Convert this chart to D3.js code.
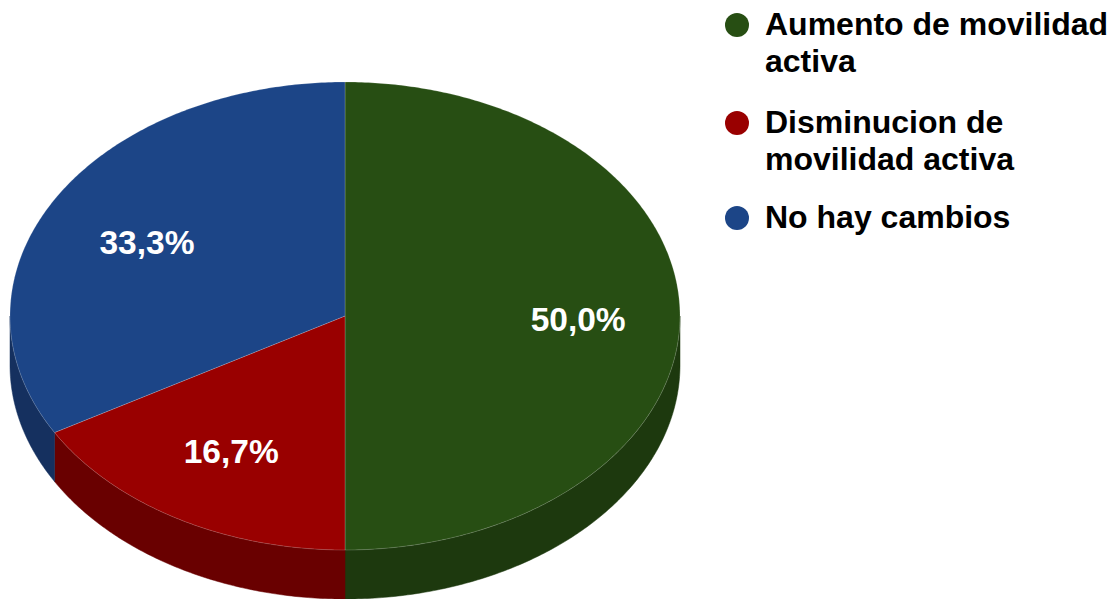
<!DOCTYPE html>
<html><head><meta charset="utf-8">
<script src="https://cdn.jsdelivr.net/npm/d3@7"></script>
<style>body{margin:0;background:#fff;}svg{display:block;}</style>
</head><body>
<svg id="c" width="1114" height="599"></svg>
<script>
const categories = ["Aumento de movilidad activa", "Disminucion de movilidad activa", "No hay cambios"];
const legendLines = [["Aumento de movilidad", "activa"], ["Disminucion de", "movilidad activa"], ["No hay cambios"]];
const values = [50.0, 16.7, 33.3];
const labels = ["50,0%", "16,7%", "33,3%"];
const topColors = ["#274e13", "#990000", "#1c4587"];
const sideColors = ["#1d390e", "#690000", "#15305f"];

const svg = d3.select("#c");
const font = "'Liberation Sans', Arial, sans-serif";
const cx = 345, cy = 316, rx = 335, ry = 234, depth = 49;
const pt = (a, dy = 0) => [cx + rx * Math.sin(a), cy - ry * Math.cos(a) + dy];

const arcs = d3.pie().sort(null).value(d => d)(values);

function sample(a0, a1) {
  const n = Math.max(2, Math.ceil(Math.abs(a1 - a0) / 0.01));
  return d3.range(n + 1).map(i => a0 + (a1 - a0) * i / n);
}

const g = svg.append("g");
// sides (visible front half: PI/2 .. 3PI/2)
arcs.forEach((a, i) => {
  const s0 = Math.max(a.startAngle, Math.PI / 2), s1 = Math.min(a.endAngle, 3 * Math.PI / 2);
  if (s1 <= s0) return;
  const angs = sample(s0, s1);
  const pts = angs.map(t => pt(t)).concat(angs.slice().reverse().map(t => pt(t, depth)));
  g.append("path").attr("d", d3.line()(pts) + "Z")
    .attr("fill", sideColors[i]).attr("stroke", sideColors[i]).attr("stroke-width", 0.5);
});
// tops
arcs.forEach((a, i) => {
  const pts = [[cx, cy]].concat(sample(a.startAngle, a.endAngle).map(t => pt(t)));
  g.append("path").attr("d", d3.line()(pts) + "Z")
    .attr("fill", topColors[i]).attr("stroke", "rgba(255,255,255,0.18)").attr("stroke-width", 1);
});
// labels
const lrx = 0.69, lry = 0.655;
arcs.forEach((a, i) => {
  const m = (a.startAngle + a.endAngle) / 2;
  g.append("text")
    .attr("x", cx + lrx * rx * Math.sin(m) + 2)
    .attr("y", cy - lry * ry * Math.cos(m) + 14.5)
    .attr("text-anchor", "middle")
    .attr("font-family", font).attr("font-weight", "bold").attr("font-size", 33.5)
    .attr("fill", "#fff").text(labels[i]);
});
// legend
const legY = [35, 133, 228];
const lg = svg.append("g");
categories.forEach((c, i) => {
  lg.append("circle").attr("cx", 737).attr("cy", legY[i] - 10).attr("r", 12).attr("fill", topColors[i]);
  const t = lg.append("text").attr("x", 765).attr("y", legY[i])
    .attr("font-family", font).attr("font-weight", "bold").attr("font-size", 32).attr("fill", "#000");
  legendLines[i].forEach((ln, j) => {
    t.append("tspan").attr("x", 765).attr("dy", j === 0 ? 0 : 37).text(ln);
  });
});
</script>
</body></html>
